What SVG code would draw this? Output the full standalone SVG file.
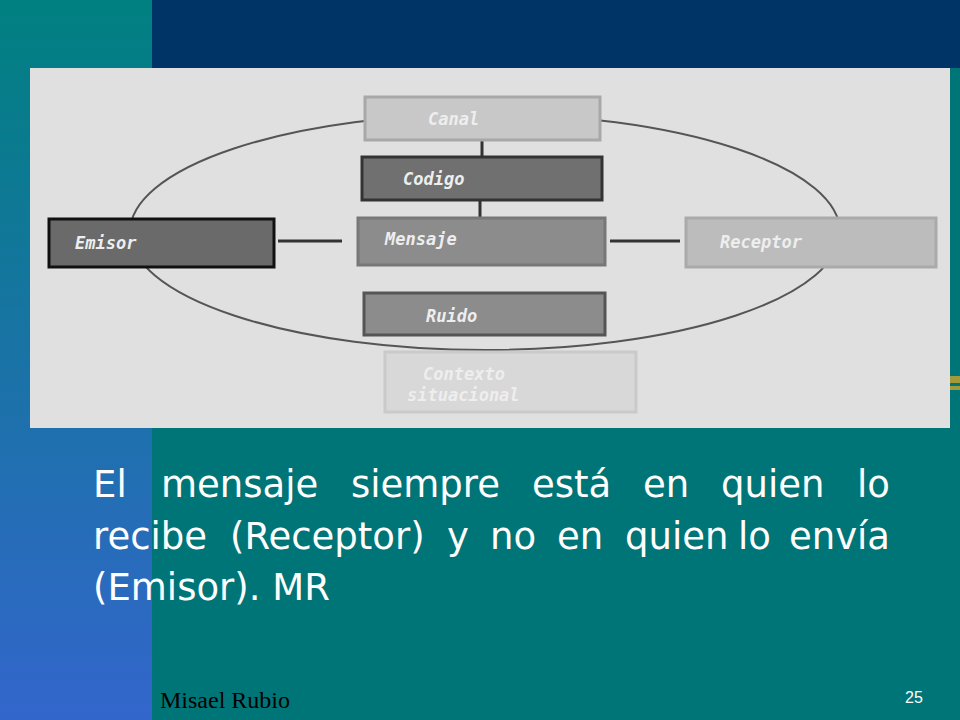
<svg xmlns="http://www.w3.org/2000/svg" width="960" height="720" viewBox="0 0 960 720">
<defs>
<linearGradient id="lg" x1="0" y1="0" x2="0" y2="1"><stop offset="0" stop-color="#008080"/><stop offset="1" stop-color="#3366cc"/></linearGradient>
<style>
.n{stroke-width:3}
.t{font-family:"DejaVu Sans Mono",monospace;font-style:italic;font-weight:bold;font-size:17px;fill:#eeeeee}
.c{stroke:#333;stroke-width:3}
.b{font-family:"DejaVu Sans",Verdana,sans-serif;font-size:37px;fill:#fff}
</style>
</defs>
<rect width="960" height="720" fill="#007578"/>
<rect width="152" height="720" fill="url(#lg)"/>
<rect x="152" width="808" height="68" fill="#003366"/>
<rect x="950" y="376" width="10" height="7" fill="#a09a3a"/>
<rect x="950" y="386" width="10" height="4" fill="#a09a3a"/>
<rect x="30" y="68" width="920" height="360" fill="#e0e0e0"/>
<g id="connectors">
<ellipse cx="485" cy="232" rx="355" ry="118" fill="none" stroke="#555" stroke-width="2"/>
<line class="c" x1="482" y1="140" x2="482" y2="157"/>
<line class="c" x1="480" y1="200" x2="480" y2="218"/>
<line class="c" x1="278" y1="241" x2="342" y2="241"/>
<line class="c" x1="610" y1="241" x2="680" y2="241"/>
</g>
<g id="canal"><rect x="365" y="97" width="235" height="43" fill="#c8c8c8" stroke="#a8a8a8" class="n"/><text class="t" x="428" y="125">Canal</text></g>
<g id="codigo"><rect x="362" y="157" width="240" height="43" fill="#707070" stroke="#333" class="n"/><text class="t" x="403" y="185">Codigo</text></g>
<g id="mensaje"><rect x="358" y="218" width="247" height="47" fill="#8c8c8c" stroke="#777" class="n"/><text class="t" x="385" y="245">Mensaje</text></g>
<g id="emisor"><rect x="49" y="219" width="225" height="48" fill="#6a6a6a" stroke="#111" class="n"/><text class="t" x="75" y="249">Emisor</text></g>
<g id="receptor"><rect x="686" y="218" width="250" height="49" fill="#bcbcbc" stroke="#aaa" class="n"/><text class="t" x="720" y="248">Receptor</text></g>
<g id="ruido"><rect x="364" y="293" width="241" height="42" fill="#8c8c8c" stroke="#555" class="n"/><text class="t" x="426" y="322">Ruido</text></g>
<g id="contexto"><rect x="385" y="352" width="251" height="60" fill="#d8d8d8" stroke="#cacaca" class="n"/><text class="t" x="423" y="380">Contexto</text><text class="t" x="407" y="401">situacional</text></g>
<text class="b" y="497"><tspan x="93">El</tspan><tspan x="161">mensaje</tspan><tspan x="351">siempre</tspan><tspan x="532">está</tspan><tspan x="643">en</tspan><tspan x="721">quien</tspan><tspan x="890" text-anchor="end">lo</tspan></text>
<text class="b" y="549"><tspan x="93">recibe</tspan><tspan x="230">(Receptor)</tspan><tspan x="447">y</tspan><tspan x="490">no</tspan><tspan x="557">en</tspan><tspan x="625">quien</tspan><tspan x="738">lo</tspan><tspan x="890" text-anchor="end">envía</tspan></text>
<text class="b" x="93" y="600">(Emisor). MR</text>
<text x="160" y="708" font-family="Liberation Serif,serif" font-size="24" fill="#000">Misael Rubio</text>
<text x="905" y="703" font-family="Liberation Sans,sans-serif" font-size="16" fill="#fff">25</text>
</svg>
